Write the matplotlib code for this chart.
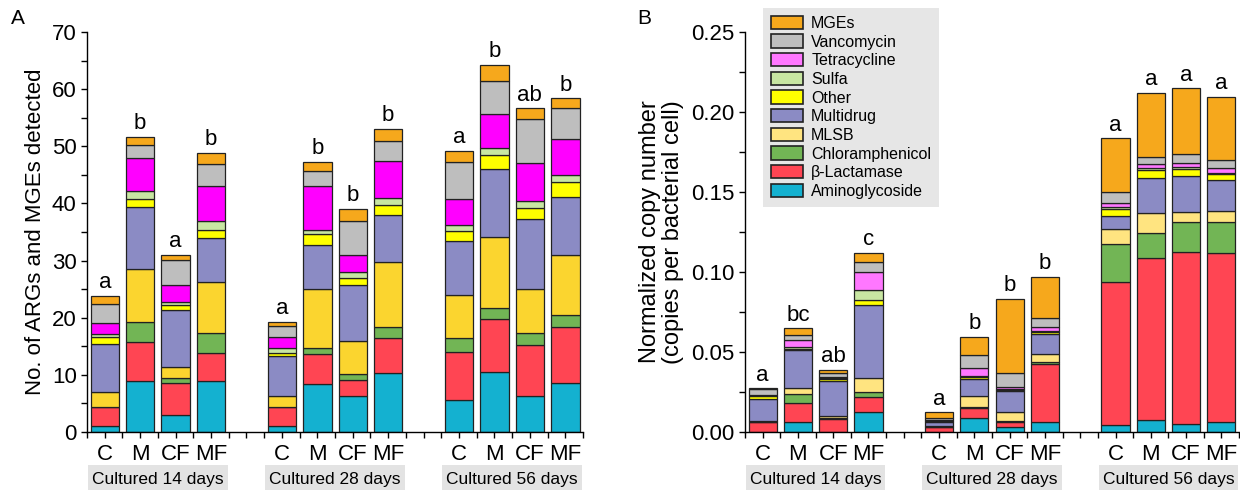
import numpy as np
import matplotlib
matplotlib.use('Agg')
import matplotlib.pyplot as plt
from matplotlib.patches import Patch, Rectangle
from matplotlib.ticker import MultipleLocator, FormatStrFormatter

plt.rcParams['font.family'] = ['Liberation Sans', 'DejaVu Sans']

# Bar layout: 3 culture times x 4 treatments
treatments = ['C', 'M', 'CF', 'MF']
groups = ['Cultured 14 days', 'Cultured 28 days', 'Cultured 56 days']
positions = [1, 2, 3, 4, 6, 7, 8, 9, 11, 12, 13, 14]

categories = ['Aminoglycoside', 'β-Lactamase', 'Chloramphenicol', 'MLSB', 'Multidrug',
              'Other', 'Sulfa', 'Tetracycline', 'Vancomycin', 'MGEs']

# Panel A: number of ARGs and MGEs detected
a_amino = [1.0, 9.0, 3.0, 9.0, 1.05, 8.35, 6.35, 10.3, 5.6, 10.45, 6.3, 8.5]
a_blac = [3.4, 6.7, 5.6, 4.9, 3.35, 5.25, 2.75, 6.1, 8.45, 9.25, 8.9, 9.8]
a_chlor = [0, 3.6, 0.8, 3.5, 0, 1.05, 1.0, 1.9, 2.45, 1.95, 2.1, 2.2]
a_mlsb = [2.6, 9.3, 2.0, 8.9, 1.9, 10.35, 5.9, 11.4, 7.5, 12.55, 7.7, 10.5]
a_multi = [8.4, 10.7, 10.0, 7.6, 7.0, 7.7, 9.7, 8.3, 9.5, 11.8, 12.2, 10.2]
a_other = [1.3, 1.4, 0.85, 1.45, 0.5, 1.9, 1.3, 1.7, 1.7, 2.5, 2.05, 2.5]
a_sulfa = [0.45, 1.5, 0.5, 1.65, 0.85, 0.75, 1.05, 1.3, 1.0, 1.15, 1.15, 1.3]
a_tet = [1.9, 5.8, 3.0, 6.05, 2.05, 7.7, 2.95, 6.4, 4.5, 6.0, 6.7, 6.2]
a_vanc = [3.4, 2.3, 4.3, 3.85, 1.9, 2.65, 5.9, 3.6, 6.6, 5.75, 7.6, 5.45]
a_mges = [1.4, 1.4, 1.0, 2.0, 0.7, 1.6, 2.1, 2.0, 1.9, 2.8, 1.95, 1.75]
a_letters = ['a', 'b', 'a', 'b', 'a', 'b', 'b', 'b', 'a', 'b', 'ab', 'b']

# Panel B: normalized copy number
b_amino = [0, 0.0065, 0, 0.0123, 0.0003, 0.0085, 0.0033, 0.006, 0.0044, 0.0075, 0.0048, 0.006]
b_blac = [0.0065, 0.0114, 0.008, 0.0094, 0.0026, 0.0067, 0.0027, 0.0363, 0.0895, 0.1015, 0.1075, 0.1057]
b_chlor = [0, 0.0056, 0.0005, 0.0035, 0.0003, 0.0006, 0.0011, 0.0012, 0.0234, 0.0152, 0.0188, 0.0198]
b_mlsb = [0.0006, 0.0038, 0.0017, 0.0088, 0.0005, 0.0069, 0.0056, 0.0053, 0.0096, 0.0125, 0.0066, 0.0068]
b_multi = [0.0135, 0.024, 0.0219, 0.0454, 0.0025, 0.0102, 0.0129, 0.0125, 0.0083, 0.0223, 0.0225, 0.0192]
b_other = [0.0018, 0.0008, 0.0010, 0.0031, 0.0005, 0.0012, 0.0008, 0.0010, 0.0040, 0.0048, 0.0042, 0.0036]
b_sulfa = [0.0005, 0.0012, 0.0005, 0.0063, 0.0003, 0.0009, 0.0005, 0.0008, 0.0012, 0.0014, 0.0010, 0.0006]
b_tet = [0.0005, 0.0042, 0.0006, 0.0114, 0.0003, 0.0048, 0.0014, 0.0023, 0.0029, 0.0023, 0.0029, 0.0035]
b_vanc = [0.0035, 0.0031, 0.0029, 0.0063, 0.0015, 0.0083, 0.0084, 0.0057, 0.0069, 0.0042, 0.0055, 0.0048]
b_mges = [0.0004, 0.0042, 0.0017, 0.0052, 0.0034, 0.0111, 0.0464, 0.026, 0.0333, 0.0404, 0.041, 0.0396]
b_letters = ['a', 'bc', 'ab', 'c', 'a', 'b', 'b', 'b', 'a', 'a', 'a', 'a']

colors_a = ['#14b1d0', '#ff4553', '#72b555', '#fbd52f', '#8b8bc4',
            '#ffff00', '#c8e6a2', '#ff00ff', '#bebebe', '#f6a81c']
colors_b = ['#14b1d0', '#ff4553', '#72b555', '#ffe480', '#8b8bc4',
            '#ffff00', '#c8e6a2', '#ff77ff', '#bebebe', '#f6a81c']

data_a = [a_amino, a_blac, a_chlor, a_mlsb, a_multi, a_other, a_sulfa, a_tet, a_vanc, a_mges]
data_b = [b_amino, b_blac, b_chlor, b_mlsb, b_multi, b_other, b_sulfa, b_tet, b_vanc, b_mges]

fig = plt.figure(figsize=(12.4, 4.9), dpi=100)
ax_a = fig.add_axes([0.0702, 0.1184, 0.400, 0.8163])
ax_b = fig.add_axes([0.6008, 0.1184, 0.3984, 0.8163])


def draw_panel(ax, data, colors, letters, ymax, major, minor):
    bottom = np.zeros(len(positions))
    for vals, col in zip(data, colors):
        ax.bar(positions, vals, width=0.8, bottom=bottom, color=col,
               edgecolor='#222222', linewidth=0.9)
        bottom += np.array(vals)
    for x, top, lab in zip(positions, bottom, letters):
        ax.annotate(lab, (x, top), xytext=(0, 2), textcoords='offset points',
                    ha='center', va='bottom', fontsize=16)

    ax.set_xlim(0.5, 14.5)
    ax.set_ylim(0, ymax)
    ax.spines['top'].set_visible(False)
    ax.spines['right'].set_visible(False)
    ax.yaxis.set_major_locator(MultipleLocator(major))
    ax.yaxis.set_minor_locator(MultipleLocator(minor))
    ax.set_xticks(positions)
    ax.set_xticklabels(treatments * 3)
    ax.xaxis.set_minor_locator(MultipleLocator(0.5))
    ax.tick_params(axis='both', which='major', length=4.5, width=1, labelsize=16)
    ax.tick_params(axis='both', which='minor', length=4, width=1)
    ax.tick_params(axis='x', which='major', pad=4)
    ax.tick_params(axis='y', which='major', pad=3)
    for sp in ax.spines.values():
        sp.set_linewidth(1)

    # group labels with grey boxes under the axis
    trans = ax.get_xaxis_transform()
    for i, g in enumerate(groups):
        x0 = positions[i * 4] - 0.48
        ax.add_patch(Rectangle((x0, -0.083), 3.96, -0.075, transform=trans,
                               facecolor='#e3e3e3', edgecolor='none', clip_on=False))
        ax.text(x0 + 1.98, -0.119, g, transform=trans, ha='center', va='center',
                fontsize=12.5)


draw_panel(ax_a, data_a, colors_a, a_letters, 70, 10, 5)
ax_a.set_ylabel('No. of ARGs and MGEs detected', fontsize=16, labelpad=4)

draw_panel(ax_b, data_b, colors_b, b_letters, 0.25, 0.05, 0.025)
ax_b.yaxis.set_major_formatter(FormatStrFormatter('%.2f'))
ax_b.set_ylabel('Normalized copy number\n(copies per bacterial cell)', fontsize=17,
                labelpad=5, linespacing=1.05)

# legend, top category first
handles = [Patch(facecolor=c, edgecolor='#222222', linewidth=1.2) for c in colors_b]
leg = fig.legend(handles[::-1], categories[::-1], loc='upper left',
                 bbox_to_anchor=(0.6155, 0.984), fontsize=11.5, frameon=True,
                 handlelength=2.0, handleheight=0.9, labelspacing=0.22,
                 handletextpad=0.5, borderpad=0.5, borderaxespad=0)
leg.get_frame().set_facecolor('#e6e6e6')
leg.get_frame().set_edgecolor('none')
leg.get_frame().set_alpha(1)
leg.get_frame().set_boxstyle('square', pad=0)

fig.text(0.009, 0.962, 'A', fontsize=15, va='center')
fig.text(0.514, 0.962, 'B', fontsize=15, va='center')

fig.savefig('out.png', dpi=100)
